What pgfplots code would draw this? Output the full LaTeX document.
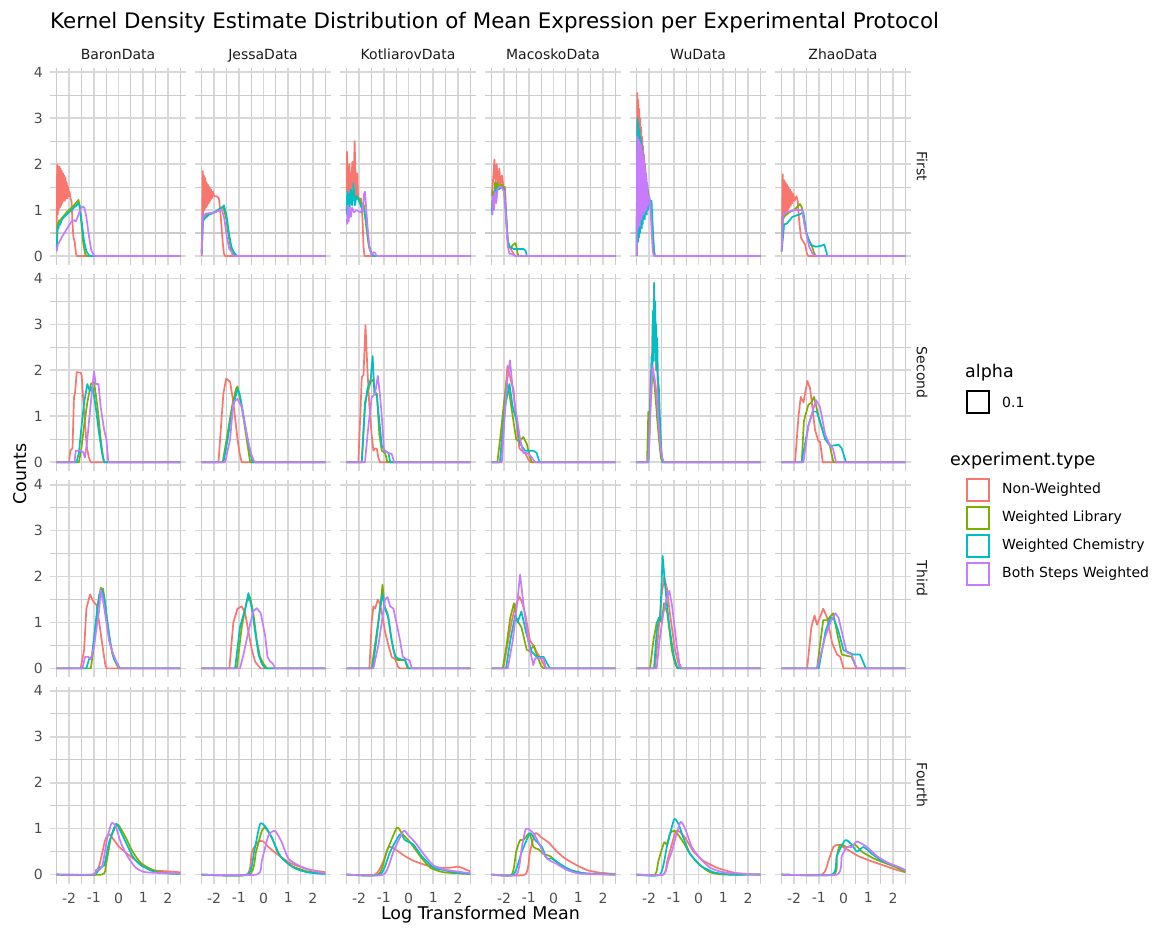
\documentclass[border=0pt]{standalone}
\usepackage{pgfplots}
\pgfplotsset{compat=1.18}
\usepackage{fontspec}
\setmainfont{DejaVu Sans}
\definecolor{cR}{HTML}{F8766D}
\definecolor{cG}{HTML}{7CAE00}
\definecolor{cC}{HTML}{00BFC4}
\definecolor{cP}{HTML}{C77CFF}
\definecolor{gridc}{HTML}{D8D8D8}
\definecolor{gridm}{HTML}{CCCCCC}
\definecolor{tickc}{HTML}{4D4D4D}
\definecolor{stripc}{HTML}{1A1A1A}
\newcommand{\pR}[1]{\addplot[cR] coordinates {#1};}
\newcommand{\pG}[1]{\addplot[cG] coordinates {#1};}
\newcommand{\pC}[1]{\addplot[cC] coordinates {#1};}
\newcommand{\pP}[1]{\addplot[cP] coordinates {#1};}
\pgfplotsset{
  panel/.style={
    scale only axis, width=136pt, height=197pt, anchor=south west,
    xmin=-2.77, xmax=2.73, ymin=-0.195, ymax=4.095,
    axis line style={draw=none}, major tick length=0pt, minor tick length=0pt,
    xtick={-2,-1,0,1,2}, ytick={0,1,2,3,4},
    minor xtick={-2.5,-1.5,-0.5,0.5,1.5,2.5}, minor ytick={0.5,1.5,2.5,3.5},
    xmajorgrids, ymajorgrids, xminorgrids, yminorgrids,
    major grid style={draw=gridc, line width=1.7pt},
    minor grid style={draw=gridm, line width=1.1pt},
    xticklabels={}, yticklabels={},
    xticklabel style={anchor=north, inner sep=0pt, yshift=-9pt, font=\fontsize{14}{14}\selectfont, text=tickc},
    yticklabel style={anchor=east, inner sep=0pt, xshift=-7pt, font=\fontsize{14}{14}\selectfont, text=tickc},
    every axis plot/.append style={line width=1.7pt, line join=round, mark=none},
  },
  lc/.style={yticklabels={0,1,2,3,4}},
  br/.style={xticklabels={-2,-1,0,1,2}, every axis plot/.append style={smooth, tension=0.35}},
}
\begin{document}
\begin{tikzpicture}
\path[use as bounding box] (0,0) rectangle (1155pt,-927pt);
% ---------------- Row 1: First ----------------
\begin{axis}[panel, lc, at={(50pt,-264.9pt)}]
\pR{(-2.5,0.5)(-2.48,2.0)(-2.46,0.9)(-2.44,1.95)(-2.42,1.0)(-2.39,1.95)(-2.37,1.05)(-2.34,1.9)(-2.32,1.1)(-2.29,1.85)(-2.27,1.15)(-2.24,1.8)(-2.22,1.2)(-2.19,1.75)(-2.17,1.2)(-2.14,1.7)(-2.12,1.25)(-2.09,1.6)(-2.07,1.25)(-2.04,1.5)(-2.01,1.3)(-1.98,1.4)(-1.94,1.25)(-1.9,1.2)(-1.86,0.7)(-1.82,0.4)(-1.77,0.3)(-1.72,0.05)(-1.68,0)(2.5,0)}
\pG{(-2.5,0.2)(-2.46,0.72)(-2.43,0.68)(-2.4,0.78)(-2.36,0.75)(-2.3,0.82)(-2.2,0.88)(-2.1,0.95)(-2.0,1.0)(-1.9,1.05)(-1.8,1.1)(-1.7,1.17)(-1.62,1.22)(-1.57,1.1)(-1.5,0.7)(-1.42,0.25)(-1.35,0.05)(-1.3,0)(2.5,0)}
\pC{(-2.5,0.15)(-2.46,0.65)(-2.43,0.6)(-2.4,0.7)(-2.36,0.68)(-2.3,0.78)(-2.2,0.85)(-2.1,0.9)(-2.0,0.95)(-1.9,1.0)(-1.8,1.05)(-1.7,1.1)(-1.64,1.15)(-1.58,1.1)(-1.5,0.8)(-1.4,0.35)(-1.3,0.1)(-1.2,0.02)(-1.15,0)(2.5,0)}
\pP{(-2.5,0.1)(-2.45,0.25)(-2.3,0.4)(-2.1,0.58)(-1.9,0.75)(-1.8,0.78)(-1.73,0.75)(-1.65,0.85)(-1.55,1.0)(-1.45,1.08)(-1.38,1.05)(-1.3,0.85)(-1.2,0.45)(-1.1,0.12)(-1.0,0.02)(-0.95,0)(2.5,0)}
\end{axis}
\begin{axis}[panel, at={(195pt,-264.9pt)}]
\pR{(-2.5,0)(-2.46,1.85)(-2.44,0.9)(-2.41,1.75)(-2.39,1.0)(-2.36,1.7)(-2.33,1.05)(-2.3,1.6)(-2.27,1.1)(-2.24,1.55)(-2.21,1.15)(-2.18,1.5)(-2.15,1.2)(-2.12,1.45)(-2.09,1.25)(-2.05,1.4)(-2.0,1.3)(-1.9,1.3)(-1.8,1.25)(-1.72,0.8)(-1.65,0.3)(-1.6,0.05)(-1.55,0)(2.5,0)}
\pG{(-2.5,0.05)(-2.45,0.8)(-2.4,0.85)(-2.3,0.9)(-2.1,0.92)(-1.9,0.98)(-1.7,1.05)(-1.62,1.05)(-1.5,0.8)(-1.4,0.4)(-1.3,0.12)(-1.2,0.03)(-1.1,0)(2.5,0)}
\pC{(-2.5,0.05)(-2.45,0.75)(-2.4,0.8)(-2.2,0.9)(-1.9,0.98)(-1.7,1.05)(-1.6,1.1)(-1.5,0.9)(-1.4,0.5)(-1.3,0.2)(-1.2,0.08)(-1.1,0.02)(-1.05,0)(2.5,0)}
\pP{(-2.5,0.05)(-2.45,0.9)(-2.4,0.85)(-2.35,0.92)(-2.2,0.93)(-1.95,0.95)(-1.75,1.0)(-1.68,1.0)(-1.58,0.8)(-1.48,0.4)(-1.38,0.15)(-1.3,0.1)(-1.25,0.02)(-1.2,0)(2.5,0)}
\end{axis}
\begin{axis}[panel, at={(340pt,-264.9pt)}]
\pR{(-2.5,1.4)(-2.49,2.27)(-2.43,1.2)(-2.39,2.0)(-2.34,1.3)(-2.27,2.05)(-2.23,1.3)(-2.18,2.5)(-2.12,1.3)(-2.07,1.8)(-2.04,1.25)(-1.92,1.25)(-1.86,0.8)(-1.82,0.2)(-1.78,0)(2.5,0)}
\pG{(-2.5,1.0)(-2.47,1.3)(-2.44,1.05)(-2.4,1.3)(-2.3,1.25)(-2.1,1.3)(-2.0,1.25)(-1.9,1.15)(-1.8,1.1)(-1.7,0.6)(-1.6,0.2)(-1.5,0.05)(-1.45,0)(2.5,0)}
\pC{(-2.5,0.9)(-2.48,1.4)(-2.45,1.0)(-2.42,1.35)(-2.38,1.05)(-2.33,1.45)(-2.28,1.1)(-2.22,1.58)(-2.17,1.1)(-2.1,1.3)(-2.0,1.2)(-1.9,1.05)(-1.8,1.0)(-1.7,0.7)(-1.6,0.25)(-1.5,0.05)(-1.4,0)(2.5,0)}
\pP{(-2.5,0.8)(-2.48,0.7)(-2.45,1.1)(-2.42,0.75)(-2.38,1.05)(-2.33,0.85)(-2.28,1.05)(-2.2,0.95)(-2.1,1.0)(-1.95,0.95)(-1.85,1.0)(-1.8,1.35)(-1.76,1.4)(-1.72,1.1)(-1.65,0.6)(-1.57,0.15)(-1.5,0.02)(-1.42,0.08)(-1.35,0.07)(-1.3,0)(2.5,0)}
\end{axis}
\begin{axis}[panel, at={(485pt,-264.9pt)}]
\pR{(-2.5,1.3)(-2.45,1.6)(-2.39,2.1)(-2.34,1.55)(-2.3,2.0)(-2.23,1.5)(-2.19,1.9)(-2.14,1.55)(-2.08,1.75)(-2.03,1.5)(-1.96,1.5)(-1.89,0.6)(-1.82,0.2)(-1.76,0.18)(-1.62,0.05)(-1.55,0)(2.5,0)}
\pG{(-2.5,1.0)(-2.45,1.4)(-2.41,1.2)(-2.37,1.6)(-2.33,1.35)(-2.28,1.6)(-2.2,1.5)(-2.1,1.55)(-2.0,1.5)(-1.93,1.0)(-1.85,0.35)(-1.78,0.2)(-1.7,0.2)(-1.62,0.25)(-1.55,0.28)(-1.5,0.2)(-1.45,0.05)(-1.4,0)(2.5,0)}
\pC{(-2.5,0.9)(-2.45,1.3)(-2.41,1.1)(-2.37,1.45)(-2.32,1.2)(-2.26,1.5)(-2.2,1.45)(-2.1,1.5)(-2.0,1.45)(-1.93,1.0)(-1.85,0.3)(-1.78,0.2)(-1.6,0.15)(-1.35,0.15)(-1.2,0.15)(-1.12,0.1)(-1.08,0)(2.5,0)}
\pP{(-2.5,0.95)(-2.47,0.9)(-2.44,1.3)(-2.41,1.0)(-2.37,1.4)(-2.32,1.15)(-2.26,1.45)(-2.2,1.5)(-2.1,1.5)(-2.0,1.4)(-1.93,0.9)(-1.85,0.2)(-1.78,0.05)(-1.7,0.05)(-1.6,0.02)(-1.55,0)(2.5,0)}
\end{axis}
\begin{axis}[panel, at={(630pt,-264.9pt)}]
\pR{(-2.5,0)(-2.48,3.55)(-2.46,0.8)(-2.44,3.4)(-2.42,0.9)(-2.40,3.2)(-2.38,0.9)(-2.36,3.0)(-2.34,1.0)(-2.32,2.8)(-2.30,1.0)(-2.28,2.6)(-2.26,1.0)(-2.24,2.4)(-2.22,1.1)(-2.20,2.2)(-2.18,1.1)(-2.16,2.0)(-2.14,1.1)(-2.12,1.8)(-2.10,1.1)(-2.08,1.6)(-2.06,1.1)(-2.03,1.4)(-2.0,1.1)(-1.95,1.2)(-1.9,1.0)(-1.85,0.5)(-1.8,0.1)(-1.75,0)(2.5,0)}
\pG{(-2.5,0)(-2.48,2.6)(-2.46,0.5)(-2.44,2.5)(-2.42,0.6)(-2.4,2.4)(-2.38,0.7)(-2.36,2.3)(-2.34,0.7)(-2.32,2.2)(-2.3,0.8)(-2.28,2.1)(-2.26,0.85)(-2.24,2.0)(-2.22,0.9)(-2.2,1.9)(-2.18,0.9)(-2.16,1.8)(-2.14,1.0)(-2.12,1.7)(-2.1,1.0)(-2.07,1.5)(-2.04,1.1)(-2.0,1.3)(-1.95,1.1)(-1.9,0.9)(-1.85,0.4)(-1.8,0.05)(-1.77,0)(2.5,0)}
\pC{(-2.5,0)(-2.47,3.0)(-2.45,0.3)(-2.43,2.9)(-2.41,0.4)(-2.39,2.75)(-2.37,0.5)(-2.35,2.6)(-2.33,0.6)(-2.31,2.5)(-2.29,0.6)(-2.27,2.35)(-2.25,0.7)(-2.23,2.2)(-2.21,0.8)(-2.19,2.05)(-2.17,0.8)(-2.15,1.9)(-2.13,0.9)(-2.11,1.7)(-2.09,0.9)(-2.07,1.55)(-2.04,1.0)(-2.0,1.3)(-1.95,1.15)(-1.9,1.2)(-1.85,0.6)(-1.8,0.1)(-1.77,0)(2.5,0)}
\pP{(-2.5,0)(-2.48,2.6)(-2.46,0.6)(-2.44,2.55)(-2.42,0.7)(-2.40,2.5)(-2.38,0.65)(-2.36,2.45)(-2.34,0.8)(-2.32,2.4)(-2.30,0.8)(-2.28,2.3)(-2.26,0.9)(-2.24,2.2)(-2.22,0.9)(-2.20,2.1)(-2.18,0.95)(-2.16,1.9)(-2.14,1.0)(-2.12,1.8)(-2.10,1.0)(-2.08,1.6)(-2.05,1.1)(-2.0,1.3)(-1.95,1.1)(-1.9,0.6)(-1.85,0.1)(-1.8,0)(2.5,0)}
\end{axis}
\begin{axis}[panel, at={(775pt,-264.9pt)}]
\pR{(-2.5,0.2)(-2.46,1.78)(-2.43,0.8)(-2.4,1.65)(-2.37,0.9)(-2.34,1.6)(-2.31,0.95)(-2.28,1.55)(-2.25,1.0)(-2.22,1.5)(-2.19,1.05)(-2.16,1.45)(-2.13,1.1)(-2.1,1.4)(-2.07,1.15)(-2.03,1.35)(-1.98,1.2)(-1.9,1.3)(-1.85,1.2)(-1.8,0.8)(-1.72,0.4)(-1.62,0.3)(-1.55,0.25)(-1.48,0.05)(-1.43,0)(2.5,0)}
\pG{(-2.5,0.1)(-2.45,0.82)(-2.35,0.88)(-2.2,0.95)(-2.0,1.0)(-1.85,1.08)(-1.76,1.13)(-1.68,1.05)(-1.58,0.7)(-1.46,0.4)(-1.3,0.25)(-1.2,0.08)(-1.12,0)(2.5,0)}
\pC{(-2.5,0.1)(-2.4,0.69)(-2.3,0.7)(-2.07,0.85)(-1.8,0.9)(-1.62,0.95)(-1.5,0.5)(-1.32,0.24)(-1.12,0.2)(-0.9,0.22)(-0.78,0.25)(-0.7,0.1)(-0.65,0)(2.5,0)}
\pP{(-2.5,0.1)(-2.45,0.9)(-2.3,0.95)(-2.0,1.0)(-1.66,1.0)(-1.55,0.6)(-1.39,0.2)(-1.25,0.05)(-1.12,0)(2.5,0)}
\end{axis}
% ---------------- Row 2: Second ----------------
\begin{axis}[panel, lc, at={(50pt,-471.1pt)}]
\pR{(-2.5,0)(-2.0,0)(-1.95,0.25)(-1.86,0.3)(-1.8,1.42)(-1.76,1.5)(-1.69,1.96)(-1.6,1.95)(-1.53,1.95)(-1.49,1.89)(-1.43,1.4)(-1.35,0.8)(-1.28,0.33)(-1.2,0.1)(-1.12,0)(2.5,0)}
\pG{(-2.5,0)(-1.6,0)(-1.5,0.3)(-1.39,0.8)(-1.26,1.3)(-1.12,1.7)(-0.99,1.75)(-0.85,1.2)(-0.72,0.5)(-0.62,0.1)(-0.58,0)(2.5,0)}
\pC{(-2.5,0)(-1.7,0)(-1.6,0.2)(-1.53,0.6)(-1.39,1.3)(-1.26,1.7)(-1.16,1.55)(-1.05,1.65)(-0.92,1.2)(-0.78,0.6)(-0.65,0.15)(-0.58,0)(2.5,0)}
\pP{(-2.5,0)(-1.78,0)(-1.73,0.25)(-1.55,0.25)(-1.43,0.22)(-1.36,0.1)(-1.28,0.4)(-1.19,0.9)(-1.08,1.5)(-0.99,1.98)(-0.92,1.7)(-0.81,1.7)(-0.72,1.2)(-0.58,0.7)(-0.49,0.5)(-0.41,0)(2.5,0)}
\end{axis}
\begin{axis}[panel, at={(195pt,-471.1pt)}]
\pR{(-2.5,0)(-1.82,0)(-1.69,1.0)(-1.62,1.5)(-1.51,1.82)(-1.35,1.75)(-1.22,1.3)(-1.05,0.5)(-0.97,0.2)(-0.88,0)(2.5,0)}
\pG{(-2.5,0)(-1.65,0)(-1.49,0.5)(-1.28,1.2)(-1.11,1.6)(-1.05,1.65)(-0.88,1.2)(-0.68,0.5)(-0.54,0)(2.5,0)}
\pC{(-2.5,0)(-1.62,0)(-1.45,0.5)(-1.28,1.1)(-1.05,1.6)(-0.95,1.45)(-0.74,0.8)(-0.61,0.4)(-0.47,0.05)(-0.43,0)(2.5,0)}
\pP{(-2.5,0)(-1.55,0)(-1.35,0.5)(-1.22,1.3)(-1.05,1.38)(-0.88,1.2)(-0.68,0.6)(-0.51,0.2)(-0.41,0.05)(-0.34,0)(2.5,0)}
\end{axis}
\begin{axis}[panel, at={(340pt,-471.1pt)}]
\pR{(-2.5,0)(-2.03,0)(-1.95,1.0)(-1.89,1.85)(-1.82,1.9)(-1.74,2.98)(-1.66,2.0)(-1.58,1.2)(-1.49,0.6)(-1.42,0.25)(-1.35,0.3)(-1.28,0.29)(-1.22,0.1)(-1.15,0)(2.5,0)}
\pG{(-2.5,0)(-1.89,0)(-1.76,1.3)(-1.62,1.6)(-1.53,1.75)(-1.42,1.8)(-1.35,1.5)(-1.28,1.5)(-1.18,0.6)(-1.08,0.25)(-0.95,0.2)(-0.85,0)(2.5,0)}
\pC{(-2.5,0)(-1.89,0)(-1.76,1.2)(-1.66,1.6)(-1.53,1.8)(-1.45,2.31)(-1.38,1.5)(-1.28,1.45)(-1.18,0.9)(-1.08,0.35)(-0.95,0.25)(-0.81,0.2)(-0.74,0)(2.5,0)}
\pP{(-2.5,0)(-1.76,0)(-1.62,0.8)(-1.49,1.4)(-1.35,1.5)(-1.24,1.88)(-1.15,1.45)(-1.08,1.0)(-0.99,0.25)(-0.81,0.2)(-0.68,0.18)(-0.58,0)(2.5,0)}
\end{axis}
\begin{axis}[panel, at={(485pt,-471.1pt)}]
\pR{(-2.5,0)(-2.16,0)(-2.03,1.0)(-1.86,2.1)(-1.69,1.7)(-1.62,1.6)(-1.49,0.8)(-1.38,0.3)(-1.28,0.25)(-1.15,0.2)(-1.01,0.05)(-0.95,0)(2.5,0)}
\pG{(-2.5,0)(-2.27,0)(-2.16,0.5)(-2.0,1.3)(-1.89,1.78)(-1.76,1.4)(-1.65,1.0)(-1.51,0.5)(-1.38,0.45)(-1.22,0.55)(-1.08,0.4)(-0.95,0.1)(-0.88,0)(2.5,0)}
\pC{(-2.5,0)(-2.16,0)(-1.96,1.2)(-1.78,1.7)(-1.65,1.2)(-1.49,0.9)(-1.35,0.4)(-1.15,0.25)(-0.81,0.25)(-0.68,0.2)(-0.57,0)(2.5,0)}
\pP{(-2.5,0)(-2.09,0)(-1.89,1.7)(-1.76,2.22)(-1.65,1.6)(-1.55,1.2)(-1.46,0.9)(-1.35,0.5)(-1.22,0.2)(-1.08,0.2)(-0.95,0.15)(-0.81,0.05)(-0.74,0)(2.5,0)}
\end{axis}
\begin{axis}[panel, at={(630pt,-471.1pt)}]
\pR{(-2.5,0)(-2.05,0)(-1.98,0.9)(-1.93,2.0)(-1.9,1.5)(-1.86,3.0)(-1.83,2.5)(-1.8,3.9)(-1.78,2.8)(-1.75,3.2)(-1.72,2.0)(-1.68,2.2)(-1.63,1.4)(-1.55,0.6)(-1.48,0.1)(-1.43,0)(2.5,0)}
\pG{(-2.5,0)(-2.08,0)(-2.03,1.1)(-1.98,0.9)(-1.93,1.5)(-1.88,1.85)(-1.82,1.9)(-1.75,1.5)(-1.68,1.0)(-1.6,0.5)(-1.52,0.1)(-1.47,0)(2.5,0)}
\pC{(-2.5,0)(-2.02,0)(-1.95,1.2)(-1.9,2.3)(-1.87,1.8)(-1.84,3.3)(-1.82,2.2)(-1.79,3.9)(-1.77,2.4)(-1.75,3.5)(-1.73,2.2)(-1.71,3.0)(-1.69,2.0)(-1.67,2.7)(-1.64,1.8)(-1.6,1.6)(-1.55,0.8)(-1.5,0.2)(-1.45,0)(2.5,0)}
\pP{(-2.5,0)(-2.05,0)(-2.0,0.3)(-1.95,1.0)(-1.9,1.7)(-1.86,2.1)(-1.82,1.95)(-1.77,1.8)(-1.7,1.5)(-1.62,0.9)(-1.55,0.4)(-1.47,0.1)(-1.4,0)(2.5,0)}
\end{axis}
\begin{axis}[panel, at={(775pt,-471.1pt)}]
\pR{(-2.5,0)(-1.96,0)(-1.82,1.0)(-1.73,1.42)(-1.62,1.3)(-1.46,1.77)(-1.35,1.6)(-1.15,0.7)(-1.01,0.45)(-0.95,0.45)(-0.84,0)(2.5,0)}
\pG{(-2.5,0)(-1.69,0)(-1.6,0.9)(-1.42,1.25)(-1.3,1.3)(-1.19,1.42)(-1.01,1.0)(-0.74,0.5)(-0.57,0.4)(-0.41,0)(2.5,0)}
\pC{(-2.5,0)(-1.69,0)(-1.42,0.8)(-1.24,1.1)(-1.08,1.1)(-0.74,0.5)(-0.54,0.35)(-0.2,0.38)(-0.07,0.3)(0.1,0)(2.5,0)}
\pP{(-2.5,0)(-1.62,0)(-1.42,0.8)(-1.11,1.35)(-0.95,1.2)(-0.74,0.6)(-0.54,0.35)(-0.43,0.3)(-0.3,0)(2.5,0)}
\end{axis}
% ---------------- Row 3: Third ----------------
\begin{axis}[panel, lc, at={(50pt,-677.3pt)}]
\pR{(-2.5,0)(-1.53,0)(-1.39,0.4)(-1.3,1.3)(-1.15,1.61)(-1.01,1.45)(-0.89,1.38)(-0.78,1.0)(-0.65,0.5)(-0.54,0.1)(-0.49,0)(2.5,0)}
\pG{(-2.5,0)(-1.12,0)(-0.99,0.5)(-0.85,1.35)(-0.72,1.75)(-0.62,1.73)(-0.51,1.3)(-0.38,0.7)(-0.24,0.3)(-0.11,0.12)(0.0,0)(2.5,0)}
\pC{(-2.5,0)(-1.3,0)(-1.19,0.2)(-1.08,0.25)(-0.92,1.0)(-0.78,1.6)(-0.68,1.72)(-0.58,1.55)(-0.45,1.0)(-0.31,0.5)(-0.18,0.2)(-0.04,0.1)(0.05,0)(2.5,0)}
\pP{(-2.5,0)(-1.46,0)(-1.35,0.25)(-1.22,0.25)(-1.12,0.2)(-0.99,0.47)(-0.92,0.76)(-0.78,1.27)(-0.72,1.71)(-0.6,1.4)(-0.38,0.6)(-0.24,0.35)(-0.11,0.18)(0.02,0)(2.5,0)}
\end{axis}
\begin{axis}[panel, at={(195pt,-677.3pt)}]
\pR{(-2.5,0)(-1.38,0)(-1.22,1.0)(-1.05,1.3)(-0.88,1.35)(-0.74,1.2)(-0.61,0.8)(-0.47,0.4)(-0.34,0.15)(-0.2,0.05)(-0.11,0)(2.5,0)}
\pG{(-2.5,0)(-1.08,0)(-0.88,0.9)(-0.68,1.45)(-0.54,1.55)(-0.41,1.2)(-0.27,0.6)(-0.14,0.25)(0.0,0.1)(0.14,0)(2.5,0)}
\pC{(-2.5,0)(-1.15,0)(-0.95,0.9)(-0.74,1.3)(-0.61,1.64)(-0.47,1.3)(-0.34,0.8)(-0.2,0.3)(-0.07,0.1)(0.07,0)(2.5,0)}
\pP{(-2.5,0)(-0.95,0)(-0.81,0.3)(-0.61,0.8)(-0.41,1.25)(-0.27,1.31)(-0.11,1.2)(0.07,0.7)(0.16,0.25)(0.27,0.15)(0.38,0.1)(0.47,0)(2.5,0)}
\end{axis}
\begin{axis}[panel, at={(340pt,-677.3pt)}]
\pR{(-2.5,0)(-1.58,0)(-1.49,1.0)(-1.42,1.35)(-1.35,1.3)(-1.24,1.5)(-1.15,1.4)(-1.04,1.1)(-0.95,0.8)(-0.81,0.5)(-0.68,0.25)(-0.54,0.2)(-0.41,0.02)(-0.34,0)(2.5,0)}
\pG{(-2.5,0)(-1.49,0)(-1.28,0.8)(-1.15,1.3)(-1.05,1.82)(-0.97,1.35)(-0.85,1.2)(-0.74,0.8)(-0.61,0.4)(-0.47,0.18)(-0.14,0.18)(-0.04,0)(2.5,0)}
\pC{(-2.5,0)(-1.45,0)(-1.28,0.7)(-1.15,1.3)(-1.05,1.62)(-0.95,1.3)(-0.81,1.1)(-0.68,0.6)(-0.54,0.25)(-0.34,0.2)(-0.14,0.18)(0.0,0)(2.5,0)}
\pP{(-2.5,0)(-1.42,0)(-1.22,0.5)(-1.08,1.0)(-0.95,1.5)(-0.85,1.55)(-0.74,1.35)(-0.61,1.3)(-0.47,0.95)(-0.34,0.6)(-0.23,0.25)(-0.09,0.2)(0.04,0.18)(0.14,0)(2.5,0)}
\end{axis}
\begin{axis}[panel, at={(485pt,-677.3pt)}]
\pR{(-2.5,0)(-2.03,0)(-1.9,0.4)(-1.7,1.0)(-1.55,1.35)(-1.38,1.56)(-1.28,1.45)(-1.15,1.2)(-1.05,0.9)(-0.95,0.6)(-0.81,0.5)(-0.68,0.35)(-0.55,0.25)(-0.41,0.1)(-0.32,0)(2.5,0)}
\pG{(-2.5,0)(-2.05,0)(-1.9,0.5)(-1.75,1.1)(-1.6,1.42)(-1.5,1.1)(-1.42,1.0)(-1.3,0.9)(-1.08,0.4)(-0.95,0.38)(-0.8,0.5)(-0.68,0.3)(-0.5,0.05)(-0.4,0)(2.5,0)}
\pC{(-2.5,0)(-1.92,0)(-1.75,0.6)(-1.55,1.16)(-1.45,1.0)(-1.3,1.24)(-1.1,0.76)(-0.88,0.36)(-0.68,0.25)(-0.4,0.25)(-0.25,0.1)(-0.15,0)(2.5,0)}
\pP{(-2.5,0)(-1.85,0)(-1.65,0.6)(-1.5,1.27)(-1.35,2.04)(-1.22,1.42)(-1.01,0.55)(-0.82,0.07)(-0.74,0.22)(-0.41,0.22)(-0.3,0)(2.5,0)}
\end{axis}
\begin{axis}[panel, at={(630pt,-677.3pt)}]
\pR{(-2.5,0)(-1.76,0)(-1.62,0.8)(-1.49,1.6)(-1.39,1.98)(-1.28,1.75)(-1.18,1.3)(-1.08,0.9)(-0.95,0.4)(-0.81,0.1)(-0.74,0)(2.5,0)}
\pG{(-2.5,0)(-1.96,0)(-1.82,0.62)(-1.69,1.0)(-1.57,1.09)(-1.5,1.0)(-1.39,1.42)(-1.26,1.2)(-1.08,0.4)(-0.95,0.1)(-0.85,0)(2.5,0)}
\pC{(-2.5,0)(-1.8,0)(-1.69,0.8)(-1.62,1.1)(-1.55,1.05)(-1.45,2.45)(-1.35,1.8)(-1.26,1.3)(-1.15,0.8)(-1.01,0.3)(-0.88,0.05)(-0.81,0)(2.5,0)}
\pP{(-2.5,0)(-1.69,0)(-1.58,0.6)(-1.42,1.2)(-1.28,1.55)(-1.18,1.69)(-1.08,1.4)(-0.99,1.0)(-0.88,0.5)(-0.77,0.1)(-0.68,0)(2.5,0)}
\end{axis}
\begin{axis}[panel, at={(775pt,-677.3pt)}]
\pR{(-2.5,0)(-1.47,0)(-1.3,0.9)(-1.17,1.15)(-1.07,0.95)(-0.82,1.3)(-0.66,1.1)(-0.46,0.55)(-0.26,0.3)(-0.13,0.25)(0.0,0)(2.5,0)}
\pG{(-2.5,0)(-1.07,0)(-0.93,0.6)(-0.82,1.05)(-0.66,1.05)(-0.42,1.2)(-0.23,0.7)(-0.07,0.3)(0.33,0.25)(0.53,0)(2.5,0)}
\pC{(-2.5,0)(-1.0,0)(-0.73,0.8)(-0.53,1.1)(-0.4,1.1)(-0.2,0.8)(0.0,0.4)(0.4,0.3)(0.67,0.3)(0.9,0)(2.5,0)}
\pP{(-2.5,0)(-1.07,0)(-0.73,0.7)(-0.53,1.0)(-0.33,1.2)(-0.2,1.1)(-0.07,0.8)(0.13,0.35)(0.33,0.3)(0.53,0)(2.5,0)}
\end{axis}
% ---------------- Row 4: Fourth ----------------
\begin{axis}[panel, lc, br, at={(50pt,-883.5pt)}]
\pR{(-2.5,0)(-1.05,0)(-0.78,0.2)(-0.54,0.75)(-0.38,0.88)(-0.18,0.75)(0.03,0.6)(0.36,0.45)(0.84,0.25)(1.38,0.1)(1.99,0.07)(2.5,0.05)}
\pG{(-2.5,0)(-0.68,0)(-0.51,0.2)(-0.31,0.8)(-0.11,1.05)(0.0,1.08)(0.3,0.8)(0.57,0.5)(0.91,0.25)(1.38,0.1)(1.92,0.03)(2.5,0.02)}
\pC{(-2.5,0)(-0.99,0)(-0.78,0.15)(-0.58,0.2)(-0.38,0.7)(-0.11,1.1)(0.03,1.0)(0.3,0.7)(0.57,0.4)(0.91,0.2)(1.51,0.05)(2.5,0.01)}
\pP{(-2.5,0)(-1.03,0)(-0.92,0.1)(-0.78,0.1)(-0.65,0.2)(-0.45,0.8)(-0.28,1.12)(-0.11,1.05)(0.09,0.7)(0.36,0.4)(0.7,0.15)(1.11,0.05)(2.5,0.02)}
\end{axis}
\begin{axis}[panel, br, at={(195pt,-883.5pt)}]
\pR{(-2.5,0)(-0.68,0)(-0.47,0.5)(-0.2,0.72)(0,0.72)(0.2,0.6)(0.54,0.45)(1.08,0.25)(1.76,0.12)(2.16,0.08)(2.5,0.05)}
\pG{(-2.5,0)(-0.57,0)(-0.3,0.5)(-0.07,0.95)(0.07,1.02)(0.34,0.8)(0.61,0.45)(1.08,0.2)(1.76,0.07)(2.5,0.02)}
\pC{(-2.5,0)(-0.65,0)(-0.38,0.5)(-0.14,1.1)(0.07,1.05)(0.34,0.8)(0.68,0.4)(1.22,0.15)(1.76,0.05)(2.5,0.01)}
\pP{(-2.5,0)(-0.27,0)(-0.07,0.3)(0.2,0.85)(0.47,0.95)(0.74,0.7)(1.0,0.35)(1.41,0.2)(1.88,0.1)(2.3,0.05)(2.5,0.02)}
\end{axis}
\begin{axis}[panel, br, at={(340pt,-883.5pt)}]
\pR{(-2.5,0)(-1.35,0)(-1.01,0.3)(-0.81,0.6)(-0.54,0.55)(-0.14,0.4)(0.2,0.3)(0.74,0.2)(1.28,0.15)(1.69,0.15)(2.03,0.17)(2.36,0.1)(2.5,0.07)}
\pG{(-2.5,0)(-1.22,0)(-0.88,0.5)(-0.47,1.02)(-0.27,0.9)(0.07,0.7)(0.47,0.4)(0.88,0.15)(1.42,0.05)(2.5,0.01)}
\pC{(-2.5,0)(-1.15,0)(-0.74,0.5)(-0.34,0.88)(-0.14,0.75)(0.2,0.65)(0.54,0.4)(1.01,0.15)(1.42,0.1)(1.82,0.05)(2.5,0.01)}
\pP{(-2.5,0)(-1.01,0)(-0.61,0.5)(-0.2,0.95)(0.0,0.85)(0.27,0.7)(0.61,0.45)(1.01,0.2)(1.55,0.1)(2.5,0.03)}
\end{axis}
\begin{axis}[panel, br, at={(485pt,-883.5pt)}]
\pR{(-2.5,0)(-1.15,0)(-0.95,0.5)(-0.74,0.9)(-0.47,0.8)(-0.2,0.7)(0.14,0.5)(0.47,0.35)(0.95,0.2)(1.35,0.1)(1.76,0.05)(2.5,0.01)}
\pG{(-2.5,0)(-1.69,0)(-1.51,0.5)(-1.35,0.75)(-1.22,0.75)(-0.97,0.9)(-0.81,0.6)(-0.61,0.55)(-0.41,0.45)(-0.14,0.4)(0.2,0.25)(0.68,0.1)(1.35,0.02)(2.5,0)}
\pC{(-2.5,0)(-1.62,0)(-1.28,0.5)(-0.95,0.9)(-0.74,0.75)(-0.47,0.6)(-0.27,0.35)(-0.07,0.35)(0.2,0.25)(0.68,0.1)(1.22,0.03)(2.5,0)}
\pP{(-2.5,0)(-1.49,0)(-1.28,0.6)(-1.11,1.0)(-0.81,0.9)(-0.61,0.7)(-0.34,0.4)(-0.14,0.3)(0.07,0.25)(0.54,0.1)(1.08,0.02)(2.5,0)}
\end{axis}
\begin{axis}[panel, br, at={(630pt,-883.5pt)}]
\pR{(-2.5,0)(-1.42,0)(-1.26,0.3)(-0.95,0.9)(-0.81,0.95)(-0.54,0.8)(-0.2,0.5)(0.2,0.3)(0.74,0.15)(1.15,0.08)(1.55,0.03)(2.36,0)(2.5,0)}
\pG{(-2.5,0)(-1.76,0)(-1.62,0.3)(-1.39,0.7)(-1.28,0.65)(-1.15,0.9)(-0.95,0.95)(-0.61,0.7)(-0.34,0.45)(0.07,0.2)(0.47,0.05)(1.01,0)(2.5,0)}
\pC{(-2.5,0)(-1.55,0)(-1.28,0.6)(-0.99,1.2)(-0.81,1.1)(-0.61,0.8)(-0.34,0.45)(0.07,0.2)(0.61,0.05)(1.28,0)(2.5,0)}
\pP{(-2.5,0)(-1.42,0)(-1.22,0.3)(-1.08,0.5)(-0.88,0.9)(-0.72,1.15)(-0.54,1.0)(-0.27,0.6)(0.07,0.35)(0.47,0.15)(1.01,0.05)(2.36,0)(2.5,0)}
\end{axis}
\begin{axis}[panel, br, at={(775pt,-883.5pt)}]
\pR{(-2.5,0)(-0.88,0)(-0.61,0.3)(-0.41,0.6)(-0.2,0.65)(0.14,0.55)(0.61,0.4)(1.08,0.3)(1.62,0.2)(2.16,0.1)(2.5,0.05)}
\pG{(-2.5,0)(-0.41,0)(-0.27,0.4)(-0.14,0.65)(0.14,0.6)(0.47,0.65)(0.74,0.5)(1.22,0.35)(1.69,0.25)(2.16,0.15)(2.5,0.05)}
\pC{(-2.5,0)(-0.47,0)(-0.27,0.4)(0.07,0.75)(0.34,0.65)(0.54,0.5)(0.81,0.6)(1.15,0.45)(1.55,0.3)(2.03,0.2)(2.5,0.1)}
\pP{(-2.5,0)(-0.27,0)(-0.07,0.4)(0.14,0.6)(0.34,0.6)(0.54,0.72)(0.95,0.6)(1.35,0.4)(1.82,0.25)(2.3,0.15)(2.5,0.08)}
\end{axis}
% ---------------- Text ----------------
\node[anchor=base west, inner sep=0pt, font=\fontsize{21.4}{25}\selectfont] at (50pt,-28pt) {Kernel Density Estimate Distribution of Mean Expression per Experimental Protocol};
\begin{scope}[every node/.style={anchor=base, inner sep=0pt, font=\fontsize{14}{16}\selectfont, text=stripc}]
\node at (118pt,-59pt) {BaronData};
\node at (263pt,-59pt) {JessaData};
\node at (408pt,-59pt) {KotliarovData};
\node at (553pt,-59pt) {MacoskoData};
\node at (698pt,-59pt) {WuData};
\node at (843pt,-59pt) {ZhaoData};
\end{scope}
\begin{scope}[every node/.style={anchor=center, inner sep=0pt, rotate=-90, font=\fontsize{14}{16}\selectfont, text=stripc}]
\node at (922pt,-166.4pt) {First};
\node at (922pt,-372.6pt) {Second};
\node at (922pt,-578.8pt) {Third};
\node at (922pt,-785pt) {Fourth};
\end{scope}
\node[rotate=90, inner sep=0pt, font=\fontsize{17.5}{20}\selectfont] at (20pt,-474pt) {Counts};
\node[inner sep=0pt, font=\fontsize{17.5}{20}\selectfont] at (480.5pt,-915pt) {Log Transformed Mean};
% ---------------- Legend ----------------
\node[anchor=base west, inner sep=0pt, font=\fontsize{17.5}{20}\selectfont] at (965pt,-377pt) {alpha};
\draw[line width=1.3pt, black] (967pt,-391pt) rectangle (989pt,-413pt);
\node[anchor=west, inner sep=0pt, font=\fontsize{14}{16}\selectfont] at (1002pt,-402pt) {0.1};
\node[anchor=base west, inner sep=0pt, font=\fontsize{17.5}{20}\selectfont] at (950pt,-465pt) {experiment.type};
\draw[line width=1.3pt, cR] (967pt,-479pt) rectangle (989pt,-501pt);
\draw[line width=1.3pt, cG] (967pt,-507pt) rectangle (989pt,-529pt);
\draw[line width=1.3pt, cC] (967pt,-535pt) rectangle (989pt,-557pt);
\draw[line width=1.3pt, cP] (967pt,-563pt) rectangle (989pt,-585pt);
\begin{scope}[every node/.style={anchor=west, inner sep=0pt, font=\fontsize{14}{16}\selectfont}]
\node at (1002pt,-490pt) {Non-Weighted};
\node at (1002pt,-518pt) {Weighted Library};
\node at (1002pt,-546pt) {Weighted Chemistry};
\node at (1002pt,-574pt) {Both Steps Weighted};
\end{scope}
\end{tikzpicture}
\end{document}
